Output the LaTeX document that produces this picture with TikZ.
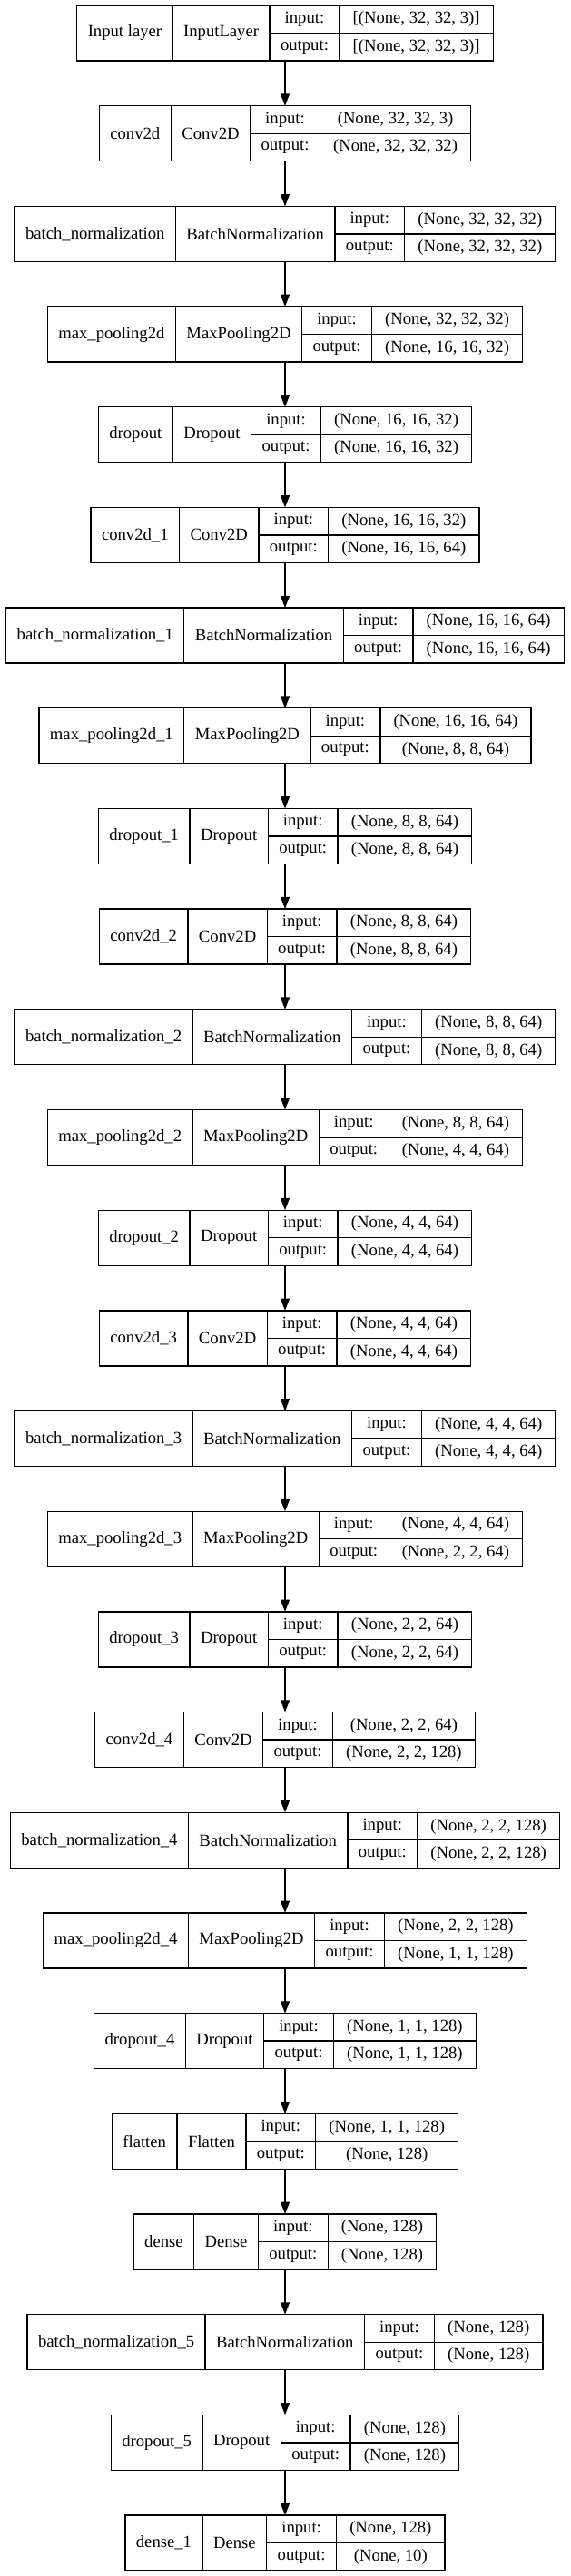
\documentclass[tikz,border=0pt]{standalone}
\usepackage{fontspec}
\setmainfont{Liberation Serif}
\usetikzlibrary{arrows.meta}
\newlength\wName
\newlength\wClass
\newlength\wPort
\newlength\wShape
\newlength\wTmp
\newcommand\layerfont{\fontsize{14pt}{16pt}\selectfont}
% measure the text of one layer outside the picture state
\newcommand\MeasureLayer[4]{%
  \pgfinterruptpicture
    \settowidth{\wTmp}{\normalfont\layerfont #1}\global\wName=\wTmp
    \settowidth{\wTmp}{\normalfont\layerfont #2}\global\wClass=\wTmp
    \settowidth{\wTmp}{\normalfont\layerfont output:}\global\wPort=\wTmp
    \settowidth{\wTmp}{\normalfont\layerfont #3}\global\wShape=\wTmp
    \settowidth{\wTmp}{\normalfont\layerfont #4}%
    \ifdim\wTmp>\wShape \global\wShape=\wTmp\fi
  \endpgfinterruptpicture
  \global\advance\wName by 18pt
  \global\advance\wClass by 18pt
  \global\advance\wPort by 18pt
  \global\advance\wShape by 22pt
}
\tikzset{
  field/.style={draw=black, line width=1pt, inner sep=0pt, outer sep=0pt, font=\layerfont},
  frame/.style={draw=none, inner sep=0pt, outer sep=0pt},
  flow/.style={draw=black, line width=1pt, -{Triangle[length=10pt, width=7.5pt]}}
}

\begin{document}
\begin{tikzpicture}[line join=miter]
  \pgfmathsetmacro{\MidX}{235.5}   % centre line of all boxes (pt)
  \pgfmathsetmacro{\TopGap}{4.5}   % top margin (pt)
  \pgfmathsetmacro{\Pitch}{83.01}  % box top to next box top (pt)
  \def\BoxH{45.75pt}
  \def\RowH{22.875pt}

  % page frame
  \useasboundingbox (0pt,0pt) rectangle (471pt,-2130pt);

  % One layer record: id, rank, name, class, input shape, output shape
  \newcommand{\Layer}[6]{%
    \MeasureLayer{#3}{#4}{#5}{#6}%
    \pgfmathsetmacro{\Ytop}{-(\TopGap+\Pitch*#2)}%
    \pgfmathsetmacro{\Wtot}{\wName+\wClass+\wPort+\wShape}%
    \pgfmathsetmacro{\Xl}{\MidX-\Wtot/2}%
    \node[frame, minimum width=\Wtot pt, minimum height=\BoxH, anchor=north] (#1) at (\MidX pt,\Ytop pt) {};
    \node[field, minimum width=\wName, minimum height=\BoxH, anchor=north west] (#1-name) at (\Xl pt,\Ytop pt) {#3};
    \node[field, minimum width=\wClass, minimum height=\BoxH, anchor=north west] (#1-class) at (#1-name.north east) {#4};
    \node[field, minimum width=\wPort, minimum height=\RowH, anchor=north west] (#1-in) at (#1-class.north east) {input:};
    \node[field, minimum width=\wPort, minimum height=\RowH, anchor=north west] (#1-out) at (#1-in.south west) {output:};
    \node[field, minimum width=\wShape, minimum height=\RowH, anchor=north west] (#1-ishape) at (#1-in.north east) {#5};
    \node[field, minimum width=\wShape, minimum height=\RowH, anchor=north west] (#1-oshape) at (#1-ishape.south west) {#6};
  }

  % Layers, top to bottom
  \Layer{l0}{0}{Input layer}{InputLayer}{[(None, 32, 32, 3)]}{[(None, 32, 32, 3)]}
  \Layer{l1}{1}{conv2d}{Conv2D}{(None, 32, 32, 3)}{(None, 32, 32, 32)}
  \Layer{l2}{2}{batch\_normalization}{BatchNormalization}{(None, 32, 32, 32)}{(None, 32, 32, 32)}
  \Layer{l3}{3}{max\_pooling2d}{MaxPooling2D}{(None, 32, 32, 32)}{(None, 16, 16, 32)}
  \Layer{l4}{4}{dropout}{Dropout}{(None, 16, 16, 32)}{(None, 16, 16, 32)}
  \Layer{l5}{5}{conv2d\_1}{Conv2D}{(None, 16, 16, 32)}{(None, 16, 16, 64)}
  \Layer{l6}{6}{batch\_normalization\_1}{BatchNormalization}{(None, 16, 16, 64)}{(None, 16, 16, 64)}
  \Layer{l7}{7}{max\_pooling2d\_1}{MaxPooling2D}{(None, 16, 16, 64)}{(None, 8, 8, 64)}
  \Layer{l8}{8}{dropout\_1}{Dropout}{(None, 8, 8, 64)}{(None, 8, 8, 64)}
  \Layer{l9}{9}{conv2d\_2}{Conv2D}{(None, 8, 8, 64)}{(None, 8, 8, 64)}
  \Layer{l10}{10}{batch\_normalization\_2}{BatchNormalization}{(None, 8, 8, 64)}{(None, 8, 8, 64)}
  \Layer{l11}{11}{max\_pooling2d\_2}{MaxPooling2D}{(None, 8, 8, 64)}{(None, 4, 4, 64)}
  \Layer{l12}{12}{dropout\_2}{Dropout}{(None, 4, 4, 64)}{(None, 4, 4, 64)}
  \Layer{l13}{13}{conv2d\_3}{Conv2D}{(None, 4, 4, 64)}{(None, 4, 4, 64)}
  \Layer{l14}{14}{batch\_normalization\_3}{BatchNormalization}{(None, 4, 4, 64)}{(None, 4, 4, 64)}
  \Layer{l15}{15}{max\_pooling2d\_3}{MaxPooling2D}{(None, 4, 4, 64)}{(None, 2, 2, 64)}
  \Layer{l16}{16}{dropout\_3}{Dropout}{(None, 2, 2, 64)}{(None, 2, 2, 64)}
  \Layer{l17}{17}{conv2d\_4}{Conv2D}{(None, 2, 2, 64)}{(None, 2, 2, 128)}
  \Layer{l18}{18}{batch\_normalization\_4}{BatchNormalization}{(None, 2, 2, 128)}{(None, 2, 2, 128)}
  \Layer{l19}{19}{max\_pooling2d\_4}{MaxPooling2D}{(None, 2, 2, 128)}{(None, 1, 1, 128)}
  \Layer{l20}{20}{dropout\_4}{Dropout}{(None, 1, 1, 128)}{(None, 1, 1, 128)}
  \Layer{l21}{21}{flatten}{Flatten}{(None, 1, 1, 128)}{(None, 128)}
  \Layer{l22}{22}{dense}{Dense}{(None, 128)}{(None, 128)}
  \Layer{l23}{23}{batch\_normalization\_5}{BatchNormalization}{(None, 128)}{(None, 128)}
  \Layer{l24}{24}{dropout\_5}{Dropout}{(None, 128)}{(None, 128)}
  \Layer{l25}{25}{dense\_1}{Dense}{(None, 128)}{(None, 10)}

  % Arrows between consecutive layers
  \foreach \i [evaluate=\i as \j using int(\i+1)] in {0,...,24}
    \draw[flow] (l\i.south) -- (l\j.north);
\end{tikzpicture}
\end{document}
